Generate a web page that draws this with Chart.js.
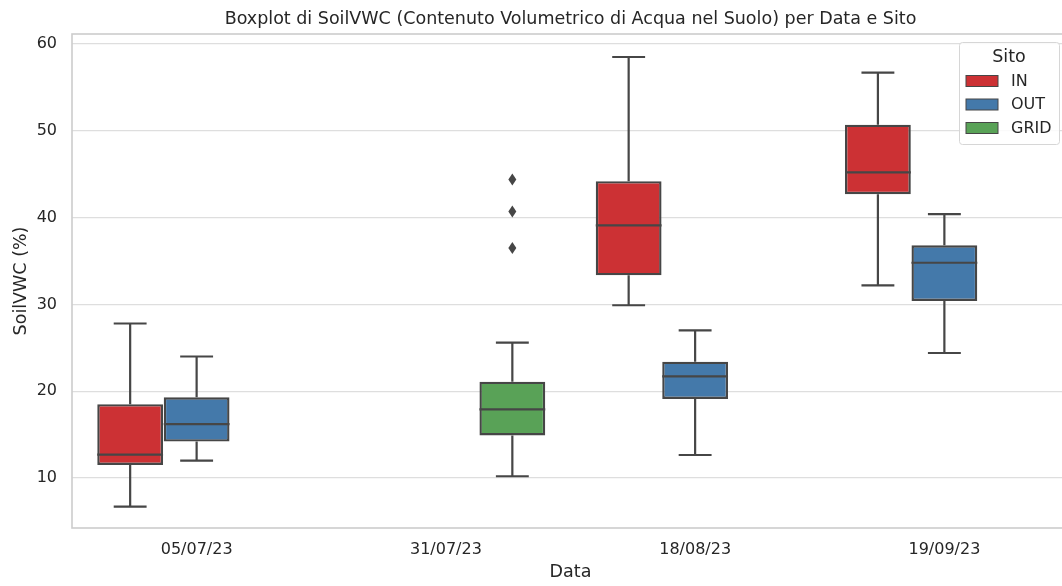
<!DOCTYPE html>
<html>
<head>
<meta charset="utf-8">
<script src="https://cdn.jsdelivr.net/npm/chart.js@4.4.0/dist/chart.umd.min.js"></script>
<style>
html,body{margin:0;padding:0;background:#fff;overflow:hidden;}
#wrap{width:1071px;height:586px;}
</style>
</head>
<body>
<div id="wrap"><canvas id="c" width="1071" height="586"></canvas></div>
<script>
const chartTitle = 'Boxplot di SoilVWC (Contenuto Volumetrico di Acqua nel Suolo) per Data e Sito';
const categories = ['05/07/23', '31/07/23', '18/08/23', '19/09/23'];
const yTicks = [10, 20, 30, 40, 50, 60];

const inLow    = [6.7,  null, 29.9, 32.2];
const inQ1     = [11.5, null, 33.35, 42.7];
const inMed    = [12.7, null, 39.1, 45.2];
const inQ3     = [18.5, null, 44.2, 50.7];
const inHigh   = [27.8, null, 58.5, 56.7];

const outLow   = [12.0, null, 12.65, 24.4];
const outQ1    = [14.2, null, 19.1, 30.4];
const outMed   = [16.2, null, 21.7, 34.8];
const outQ3    = [19.3, null, 23.4, 36.8];
const outHigh  = [24.0, null, 27.0, 40.4];

const gridLow  = [null, 10.2, null, null];
const gridQ1   = [null, 14.9, null, null];
const gridMed  = [null, 17.9, null, null];
const gridQ3   = [null, 21.1, null, null];
const gridHigh = [null, 25.6, null, null];
const gridOutliers = [[], [36.5, 40.7, 44.4], [], []];

const seriesNames = ['IN', 'OUT', 'GRID'];
const seriesColors = ['#cc3134', '#4479aa', '#59a257'];
const lineColor = '#464646';
const textColor = '#262626';

const stats = [
  {low: inLow, q1: inQ1, med: inMed, q3: inQ3, high: inHigh, out: [[], [], [], []]},
  {low: outLow, q1: outQ1, med: outMed, q3: outQ3, high: outHigh, out: [[], [], [], []]},
  {low: gridLow, q1: gridQ1, med: gridMed, q3: gridQ3, high: gridHigh, out: gridOutliers}
];

const datasets = stats.map((s, k) => ({
  label: seriesNames[k],
  data: s.q1.map((v, i) => v === null ? null : [v, s.q3[i]]),
  backgroundColor: seriesColors[k],
  borderColor: lineColor,
  borderWidth: 2.4,
  borderSkipped: false,
  categoryPercentage: 0.8,
  barPercentage: 0.99
}));

const boxPlugin = {
  id: 'boxparts',
  beforeDatasetsDraw(chart) {
    const y = chart.scales.y;
    const ctx = chart.ctx;
    ctx.save();
    ctx.strokeStyle = lineColor;
    ctx.lineWidth = 2.2;
    stats.forEach((s, k) => {
      const meta = chart.getDatasetMeta(k);
      meta.data.forEach((el, i) => {
        if (s.q1[i] === null) return;
        const x = el.x, w = el.width;
        const cap = w / 4;
        ctx.beginPath();
        ctx.moveTo(x, y.getPixelForValue(s.q3[i]));
        ctx.lineTo(x, y.getPixelForValue(s.high[i]));
        ctx.moveTo(x - cap, y.getPixelForValue(s.high[i]));
        ctx.lineTo(x + cap, y.getPixelForValue(s.high[i]));
        ctx.moveTo(x, y.getPixelForValue(s.q1[i]));
        ctx.lineTo(x, y.getPixelForValue(s.low[i]));
        ctx.moveTo(x - cap, y.getPixelForValue(s.low[i]));
        ctx.lineTo(x + cap, y.getPixelForValue(s.low[i]));
        ctx.stroke();
      });
    });
    ctx.restore();
  },
  afterDatasetsDraw(chart) {
    const y = chart.scales.y;
    const ctx = chart.ctx;
    ctx.save();
    ctx.strokeStyle = lineColor;
    ctx.fillStyle = lineColor;
    ctx.lineWidth = 2.2;
    stats.forEach((s, k) => {
      const meta = chart.getDatasetMeta(k);
      meta.data.forEach((el, i) => {
        if (s.q1[i] === null) return;
        const x = el.x, w = el.width;
        const my = y.getPixelForValue(s.med[i]);
        ctx.beginPath();
        ctx.moveTo(x - w / 2, my);
        ctx.lineTo(x + w / 2, my);
        ctx.stroke();
        s.out[i].forEach(v => {
          const py = y.getPixelForValue(v);
          ctx.beginPath();
          ctx.moveTo(x, py - 6);
          ctx.lineTo(x + 4, py);
          ctx.lineTo(x, py + 6);
          ctx.lineTo(x - 4, py);
          ctx.closePath();
          ctx.fill();
        });
      });
    });
    // spines
    const a = chart.chartArea;
    ctx.strokeStyle = '#cccccc';
    ctx.lineWidth = 1.6;
    ctx.strokeRect(a.left, a.top, a.right - a.left + 10, a.bottom - a.top);
    // title centred over the plot area
    ctx.fillStyle = textColor;
    ctx.font = '17.5px "DejaVu Sans"';
    ctx.textAlign = 'center';
    ctx.textBaseline = 'middle';
    ctx.fillText(chartTitle, (a.left + a.right) / 2, 19);
    // legend
    const lx = 959.5, ly = 42.5, lw = 100, lh = 102;
    ctx.fillStyle = 'rgba(255,255,255,0.85)';
    ctx.strokeStyle = '#d6d6d6';
    ctx.lineWidth = 1;
    ctx.beginPath();
    ctx.roundRect(lx, ly, lw, lh, 3);
    ctx.fill();
    ctx.stroke();
    ctx.fillStyle = textColor;
    ctx.font = '17.5px "DejaVu Sans"';
    ctx.textAlign = 'center';
    ctx.fillText('Sito', 1009, 57);
    ctx.font = '16px "DejaVu Sans"';
    ctx.textAlign = 'left';
    seriesNames.forEach((n, k) => {
      const ry = 81.5 + k * 23.5;
      ctx.fillStyle = seriesColors[k];
      ctx.fillRect(966, ry - 6, 32, 11);
      ctx.strokeStyle = lineColor;
      ctx.lineWidth = 1;
      ctx.strokeRect(966, ry - 6, 32, 11);
      ctx.fillStyle = textColor;
      ctx.fillText(n, 1011, ry);
    });
    ctx.restore();
  }
};

new Chart(document.getElementById('c'), {
  type: 'bar',
  data: {labels: categories, datasets: datasets},
  plugins: [boxPlugin],
  options: {
    responsive: false,
    animation: false,
    layout: {padding: {left: 0, right: 2, top: 34, bottom: 0}},
    plugins: {
      legend: {display: false},
      tooltip: {enabled: false},
      title: {display: false}
    },
    scales: {
      x: {
        grid: {display: false},
        border: {display: false},
        ticks: {color: textColor, font: {family: 'DejaVu Sans', size: 16}, padding: 4},
        title: {display: true, text: 'Data', color: textColor, font: {family: 'DejaVu Sans', size: 17.5}, padding: {top: 0, bottom: 3.5}},
        afterFit(s) { s.height = 58; }
      },
      y: {
        min: 4.24, max: 61.15,
        afterBuildTicks(s) { s.ticks = yTicks.map(v => ({value: v})); },
        grid: {color: '#dedede', lineWidth: 1.3, drawTicks: false},
        border: {display: false},
        ticks: {color: textColor, font: {family: 'DejaVu Sans', size: 16}, padding: 15},
        title: {display: true, text: 'SoilVWC (%)', color: textColor, font: {family: 'DejaVu Sans', size: 17.5}, padding: {top: 11, bottom: 0}},
        afterFit(s) { s.width = 72; }
      }
    }
  }
});
</script>
</body>
</html>
